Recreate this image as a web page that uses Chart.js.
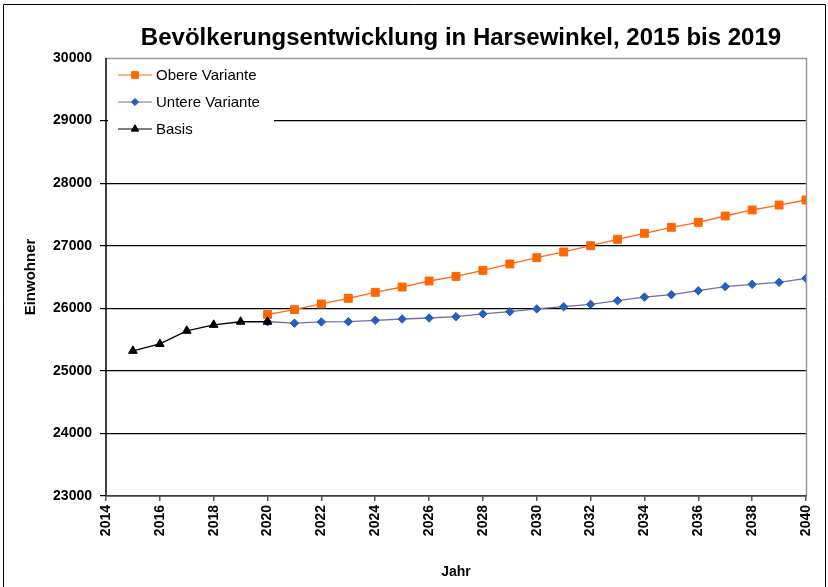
<!DOCTYPE html>
<html><head><meta charset="utf-8">
<script src="https://cdn.jsdelivr.net/npm/chart.js@4/dist/chart.umd.min.js"></script>
<style>html,body{margin:0;padding:0;background:#fff}#wrap{width:828px;height:587px;position:relative}</style>
</head><body><div id="wrap"><canvas id="c" width="828" height="587"></canvas></div>
<script>
const titleText = 'Bevölkerungsentwicklung in Harsewinkel, 2015 bis 2019';
const xTitle = 'Jahr';
const yTitle = 'Einwohner';
const basisYears = [2015, 2016, 2017, 2018, 2019, 2020];
const basisValues = [25320, 25430, 25640, 25735, 25785, 25785];
const variantYears = [2020,2021,2022,2023,2024,2025,2026,2027,2028,2029,2030,2031,2032,2033,2034,2035,2036,2037,2038,2039,2040];
const obereValues = [25900,25978,26069,26159,26255,26340,26436,26510,26606,26708,26808,26900,27000,27102,27198,27294,27374,27475,27571,27650,27731];
const untereValues = [25785,25762,25782,25786,25808,25829,25845,25866,25910,25946,25990,26025,26063,26121,26180,26217,26281,26345,26383,26415,26479];
const seriesNames = ['Obere Variante', 'Untere Variante', 'Basis'];
const xMin = 2014, xMax = 2040, xStep = 2;
const yMin = 23000, yMax = 30000, yStep = 1000;

const toPts = (xs, ys) => xs.map((x, i) => ({x: x, y: ys[i]}));
const FONT = 'Liberation Sans, Arial, sans-serif';

const styles = [
  {line: '#FF6A10', fill: '#FF6600', border: '#FF6600', shape: 'rect', r: 5.6},
  {line: '#6E6EA8', fill: '#2060C8', border: '#2F55A8', shape: 'rectRot', r: 4.2},
  {line: '#000000', fill: '#000000', border: '#000000', shape: 'triangle', r: 5}
];

const decor = {
  id: 'decor',
  beforeDraw(chart) {
    const ctx = chart.ctx;
    ctx.save();
    ctx.fillStyle = '#fff';
    ctx.fillRect(0, 0, chart.width, chart.height);
    ctx.restore();
  },
  afterDatasetsDraw(chart) {
    const ctx = chart.ctx, a = chart.chartArea;
    ctx.save();
    // plot border
    ctx.lineWidth = 1.5;
    ctx.strokeStyle = '#9a9a9a';
    ctx.beginPath();
    ctx.moveTo(a.left, a.top + 0.5); ctx.lineTo(a.right + 0.5, a.top + 0.5); ctx.lineTo(a.right + 0.5, a.bottom);
    ctx.stroke();
    ctx.strokeStyle = '#000';
    ctx.lineWidth = 1.5;
    ctx.beginPath(); ctx.moveTo(a.left, a.top); ctx.lineTo(a.left, a.bottom); ctx.stroke();
    ctx.strokeStyle = '#555';
    ctx.beginPath(); ctx.moveTo(a.left, a.bottom); ctx.lineTo(a.right + 1, a.bottom); ctx.stroke();
    // outer frame
    ctx.strokeStyle = '#000'; ctx.lineWidth = 1;
    ctx.beginPath(); ctx.moveTo(3.5, 600); ctx.lineTo(3.5, 4.5); ctx.lineTo(825.5, 4.5); ctx.lineTo(825.5, 600); ctx.stroke();
    // title
    ctx.fillStyle = '#000';
    ctx.font = 'bold 24px ' + FONT;
    ctx.textAlign = 'center'; ctx.textBaseline = 'middle';
    ctx.fillText(titleText, 461, 38);
    // legend
    const lx = a.left + 2, ly = a.top + 2;
    ctx.fillStyle = '#fff';
    ctx.fillRect(lx, ly, 166, 84);
    ctx.font = '15px ' + FONT;
    ctx.textAlign = 'left';
    seriesNames.forEach((name, i) => {
      const y = 75 + i * 27;
      const s = styles[i];
      ctx.strokeStyle = s.line; ctx.lineWidth = 1.2;
      ctx.beginPath(); ctx.moveTo(118, y); ctx.lineTo(152, y); ctx.stroke();
      ctx.fillStyle = s.fill; ctx.strokeStyle = s.border; ctx.lineWidth = 1;
      Chart.helpers.drawPoint(ctx, {pointStyle: s.shape, radius: s.r * 0.85, borderWidth: 1}, 135, y);
      ctx.fillStyle = '#000';
      ctx.fillText(name, 156, y + 1);
    });
    ctx.restore();
  }
};

new Chart(document.getElementById('c'), {
  type: 'line',
  data: {
    datasets: [
      {label: seriesNames[0], data: toPts(variantYears, obereValues)},
      {label: seriesNames[1], data: toPts(variantYears, untereValues)},
      {label: seriesNames[2], data: toPts(basisYears, basisValues)}
    ].map((d, i) => Object.assign(d, {
      borderColor: styles[i].line, borderWidth: 1.3,
      pointStyle: styles[i].shape, pointRadius: styles[i].r,
      pointBackgroundColor: styles[i].fill, pointBorderColor: styles[i].border,
      pointBorderWidth: 1, tension: 0, fill: false, order: 2 - i
    }))
  },
  options: {
    responsive: false, animation: false, devicePixelRatio: 1,
    layout: {padding: {top: 58, right: 22, left: 0, bottom: 0}},
    plugins: {legend: {display: false}, title: {display: false}, tooltip: {enabled: false}},
    scales: {
      x: {
        type: 'linear', min: xMin, max: xMax,
        afterFit(s) { s.height = 91; },
        afterBuildTicks(s) { const t = []; for (let v = xMin; v <= xMax; v += xStep) t.push({value: v}); s.ticks = t; },
        ticks: {stepSize: xStep, minRotation: 90, maxRotation: 90, color: '#000', padding: 4,
          font: {family: FONT, size: 14, weight: 'bold'}, callback: v => String(v)},
        grid: {drawOnChartArea: false, drawTicks: true, tickLength: 5, color: '#555', lineWidth: 1.5},
        border: {display: false},
        title: {display: true, text: xTitle, color: '#000', font: {family: FONT, size: 14, weight: 'bold'}, padding: {top: 9, bottom: 6}}
      },
      y: {
        min: yMin, max: yMax,
        afterFit(s) { s.width = 106; },
        ticks: {stepSize: yStep, color: '#000', padding: 8, font: {family: FONT, size: 14, weight: 'bold'}, callback: v => String(v)},
        grid: {color: c => c.tick && c.tick.value === yMax ? 'rgba(0,0,0,0)' : '#000', lineWidth: 1.2, tickLength: 6},
        border: {display: false},
        title: {display: true, text: yTitle, color: '#000', font: {family: FONT, size: 15, weight: 'bold'}, padding: {top: 22, bottom: 0}}
      }
    }
  },
  plugins: [decor]
});
</script>
</body></html>
